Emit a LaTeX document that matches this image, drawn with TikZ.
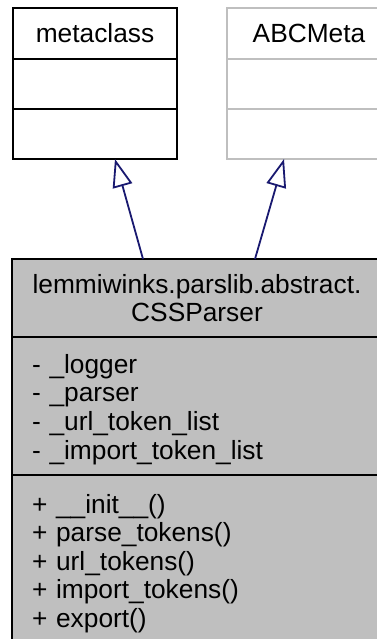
\documentclass[tikz,border=0pt]{standalone}
\usepackage{fontspec}
\setmainfont{Liberation Sans}
\usetikzlibrary{arrows.meta, positioning}
\definecolor{edgeblue}{HTML}{191970}
\definecolor{boxgray}{HTML}{BFBFBF}

\begin{document}
\begin{tikzpicture}[x=1pt, y=-1pt, every node/.style={font=\fontsize{26.3}{28.6}\selectfont}]
    \tikzstyle{part} = [rectangle, draw=black, line width=2pt, outer sep=0pt, inner sep=0pt, text centered, minimum width=164pt]
    \tikzstyle{ghost} = [part, draw=boxgray]
    \tikzstyle{member} = [part, fill=boxgray, align=left, text width=330pt, inner xsep=20pt, minimum width=370pt, execute at begin node={\rule{0pt}{26pt}}]
    \tikzstyle{inherit} = [draw=edgeblue, line width=1.8pt, -{Triangle[open, length=28pt, width=20pt]}]

    \useasboundingbox (0,0) rectangle (376,639);

    \node (metahead) [part, anchor=north west, minimum height=51pt] at (13,8) {metaclass};
    \node (metaattr) [part, below=0pt of metahead, minimum height=50pt] {};
    \node (metaops) [part, below=0pt of metaattr, minimum height=50pt] {};

    \node (abchead) [ghost, anchor=north west, minimum height=51pt] at (227,8) {ABCMeta};
    \node (abcattr) [ghost, below=0pt of abchead, minimum height=50pt] {};
    \node (abcops) [ghost, below=0pt of abcattr, minimum height=50pt] {};

    \node (parserhead) [part, fill=boxgray, anchor=north west, minimum width=370pt, minimum height=78pt, align=center] at (12,259)
        {lemmiwinks.parslib.abstract.\\CSSParser};
    \node (parserattr) [member, below=0pt of parserhead, minimum height=138pt]
        {- \_logger\\- \_parser\\- \_url\_token\_list\\- \_import\_token\_list};
    \node (parserops) [member, below=0pt of parserattr, minimum height=170pt]
        {+ \_\_init\_\_()\\+ parse\_tokens()\\+ url\_tokens()\\+ import\_tokens()\\+ export()};

    \draw [inherit] ([xshift=131pt]parserhead.north west) -- ([xshift=102pt]metaops.south west);
    \draw [inherit] ([xshift=243pt]parserhead.north west) -- ([xshift=57pt]abcops.south west);
\end{tikzpicture}
\end{document}
